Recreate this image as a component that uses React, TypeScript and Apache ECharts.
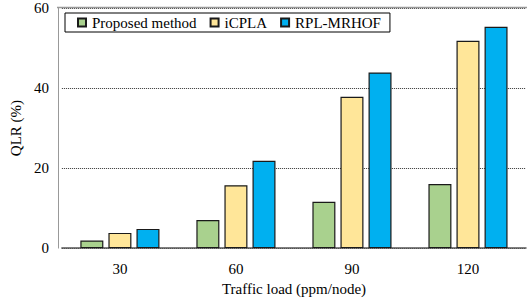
import React, { useEffect, useRef } from "react";
import * as echarts from "echarts";

const categories = ["30", "60", "90", "120"];
const proposed = [1.9, 7.0, 11.6, 16.0];
const icpla = [3.8, 15.7, 37.8, 51.8];
const rplMrhof = [4.8, 21.8, 43.9, 55.3];
const seriesNames = ["Proposed method", "iCPLA", "RPL-MRHOF"];
const colors = ["#a9d18e", "#ffe699", "#00b0f0"];

const FONT = "'Liberation Serif', 'Times New Roman', serif";

export default function App() {
  const ref = useRef<HTMLDivElement>(null);
  useEffect(() => {
    if (!ref.current) return;
    const chart = echarts.init(ref.current, null, { renderer: "svg" });
    const data = [proposed, icpla, rplMrhof];
    chart.setOption({
      animation: false,
      backgroundColor: "#fff",
      textStyle: { fontFamily: FONT },
      grid: { left: 61, right: 1, top: 8, bottom: 50, containLabel: false },
      legend: {
        left: 65,
        top: 13,
        orient: "horizontal",
        borderColor: "#000",
        borderWidth: 1,
        backgroundColor: "#fff",
        padding: [2, 9, 2, 12],
        itemWidth: 8,
        itemHeight: 8,
        itemGap: 13,
        icon: "rect",
        textStyle: { fontFamily: FONT, fontSize: 15, color: "#000", padding: [0, 0, 0, 1] },
        data: seriesNames,
      },
      xAxis: {
        type: "category",
        data: categories,
        axisLine: { lineStyle: { color: "#555", width: 1.5 } },
        axisTick: { show: false },
        axisLabel: { fontFamily: FONT, fontSize: 15, color: "#000", margin: 13 },
        name: "Traffic load (ppm/node)",
        nameLocation: "middle",
        nameGap: 32,
        nameTextStyle: { fontFamily: FONT, fontSize: 15, color: "#000" },
      },
      yAxis: {
        type: "value",
        min: 0,
        max: 60,
        interval: 20,
        offset: 4,
        axisLine: { show: true, lineStyle: { color: "#999", width: 1 } },
        axisTick: { show: false },
        axisLabel: { fontFamily: FONT, fontSize: 15, color: "#000", margin: 9 },
        splitLine: { show: true, lineStyle: { color: "#333", type: [1, 1], width: 1 } },
        name: "QLR (%)",
        nameLocation: "middle",
        nameGap: 33,
        nameTextStyle: { fontFamily: FONT, fontSize: 15, color: "#000" },
      },
      graphic: [
        {
          type: "line",
          shape: { x1: 57, y1: 7.5, x2: 527, y2: 7.5 },
          style: { stroke: "#999", lineWidth: 1.5 },
          z: 10,
        },
      ],
      series: seriesNames.map((name, i) => ({
        name,
        type: "bar",
        data: data[i],
        barWidth: 23,
        barGap: "22%",
        itemStyle: { color: colors[i], borderColor: "#1a1a1a", borderWidth: 1.2 },
      })),
    });
    return () => chart.dispose();
  }, []);
  return <div ref={ref} style={{ width: 527, height: 301, position: "absolute", left: 0, top: 0 }} />;
}
